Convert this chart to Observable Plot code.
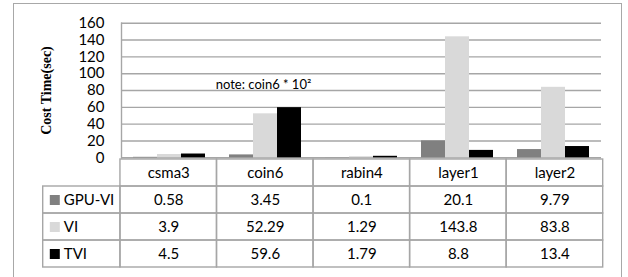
<!DOCTYPE html>
<html>
<head>
<meta charset="utf-8">
<script src="https://cdn.jsdelivr.net/npm/d3@7"></script>
<script src="https://cdn.jsdelivr.net/npm/@observablehq/plot@0.6"></script>
<style>
  html, body { margin: 0; padding: 0; background: #fff; overflow: hidden; }
  #wrap { position: relative; width: 628px; height: 277px; overflow: hidden; background: #fff; }
  #border { position: absolute; left: 12.5px; top: 2.5px; width: 609px; height: 300px; border: 1.5px solid #a8a8a8; box-sizing: border-box; }
  #chart { position: absolute; left: 0; top: 0; }
  #table { position: absolute; left: 0; top: 157px; }
  svg { overflow: visible; }
</style>
</head>
<body>
<div id="wrap">
  <div id="border"></div>
  <div id="chart"></div>
  <div id="table"></div>
</div>
<script>
const categories = ["csma3", "coin6", "rabin4", "layer1", "layer2"];
const series = ["GPU-VI", "VI", "TVI"];
const gpuVI = [0.58, 3.45, 0.1, 20.1, 9.79];
const vi = [3.9, 52.29, 1.29, 143.8, 83.8];
const tvi = [4.5, 59.6, 1.79, 8.8, 13.4];
const seriesColors = ["#808080", "#d9d9d9", "#000000"];
const yTicks = [0, 20, 40, 60, 80, 100, 120, 140, 160];
const yLabel = "Cost Time(sec)";
const noteText = "note: coin6 * 10²";
const noteCategory = "coin6";
const noteValue = 80;

const valuesBySeries = [gpuVI, vi, tvi];
const rows = categories.flatMap((cat, i) =>
  series.map((s, j) => ({cat, series: s, value: valuesBySeries[j][i], ci: i}))
);

const gridColor = "#a6a6a6";
const font = "Lato, 'Open Sans', sans-serif";

const chart = Plot.plot({
  width: 628,
  height: 158,
  marginTop: 22.7,
  marginBottom: 0.7,
  marginLeft: 120,
  marginRight: 25.3,
  style: {fontFamily: font, background: "transparent"},
  fx: {domain: categories, padding: 0, axis: null},
  x: {domain: series, paddingInner: 0, paddingOuter: 0.5, axis: null},
  y: {domain: [0, 160], axis: null},
  color: {domain: series, range: seriesColors},
  marks: [
    Plot.gridY(yTicks, {stroke: gridColor, strokeOpacity: 1, strokeWidth: 1.4}),
    Plot.frame({anchor: "left", facetAnchor: "left", stroke: gridColor, strokeWidth: 1.4}),
    Plot.axisY(yTicks, {tickSize: 0, tickPadding: 17, fontSize: 15, fill: "#000", label: null, tickFormat: d => String(d)}),
    Plot.barY(rows, {fx: "cat", x: "series", y: "value", fill: "series"}),
    Plot.text([noteText], {fx: [noteCategory], y: [noteValue], text: d => d, lineAnchor: "bottom", dy: -1.5, dx: -2, fontSize: 13, fill: "#000"}),
    Plot.text([yLabel], {fx: [categories[0]], frameAnchor: "left", textAnchor: "middle", lineAnchor: "middle", text: d => d, rotate: -90, dx: -75, fontFamily: "'Liberation Serif', 'Times New Roman', serif", fontWeight: "bold", fontSize: 14, fill: "#000"})
  ]
});
document.getElementById("chart").appendChild(chart);

// data table below the chart
const legendWidth = 0.8;
const catCells = categories.map((cat, i) => ({cat, i}));
const valueCells = rows.map(d => ({...d, i: d.ci}));
const legendCells = series.map((s) => ({series: s}));

const table = Plot.plot({
  width: 628,
  height: 120,
  marginTop: 0.3,
  marginBottom: 8,
  marginLeft: 42.7,
  marginRight: 25.3,
  style: {fontFamily: font, background: "transparent"},
  x: {domain: [-legendWidth, categories.length], axis: null},
  y: {domain: ["cat", ...series], padding: 0, axis: null},
  color: {domain: series, range: seriesColors},
  marks: [
    Plot.barX(catCells, {x1: "i", x2: d => d.i + 1, y: () => "cat", fill: "none", stroke: gridColor, strokeWidth: 1.4}),
    Plot.barX(valueCells, {x1: "i", x2: d => d.i + 1, y: "series", fill: "none", stroke: gridColor, strokeWidth: 1.4}),
    Plot.barX(legendCells, {x1: () => -legendWidth, x2: () => 0, y: "series", fill: "none", stroke: gridColor, strokeWidth: 1.4}),
    Plot.text(catCells, {x: d => d.i + 0.5, y: () => "cat", text: "cat", fontSize: 15, fill: "#000"}),
    Plot.text(valueCells, {x: d => d.i + 0.5, y: "series", text: d => String(d.value), fontSize: 15, fill: "#000"}),
    Plot.dot(legendCells, {x: () => -legendWidth, y: "series", symbol: "square", r: 5.64, fill: "series", dx: 11.6}),
    Plot.text(legendCells, {x: () => -legendWidth, y: "series", text: "series", textAnchor: "start", dx: 20.6, fontSize: 15, fill: "#000"})
  ]
});
document.getElementById("table").appendChild(table);
</script>
</body>
</html>
